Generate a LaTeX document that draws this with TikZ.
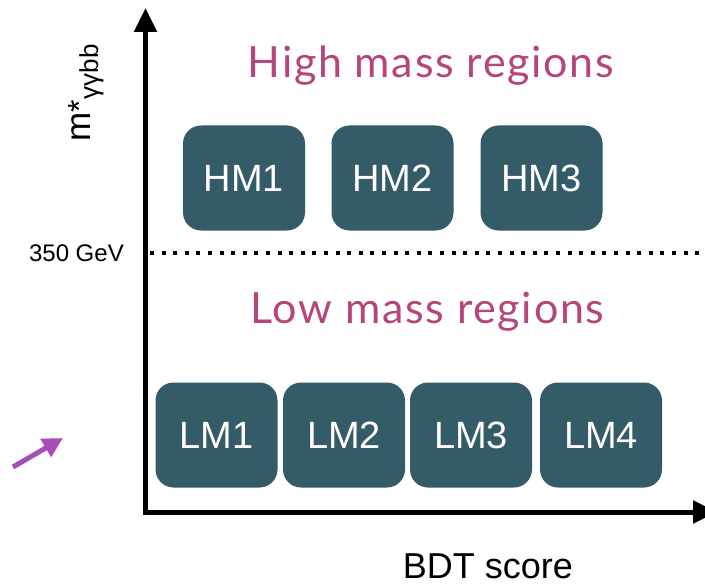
\documentclass[tikz,border=0pt]{standalone}
\usepackage{fontspec}
\setmainfont{Liberation Sans}
\newfontfamily\titlefont[LetterSpace=4]{Lato}
\usetikzlibrary{arrows.meta}
\definecolor{boxteal}{HTML}{335B68}
\definecolor{titlepink}{HTML}{B5457A}
\definecolor{arrowpurple}{HTML}{A64FB5}
\tikzset{
  region/.style={fill=boxteal, rounded corners=18pt, minimum width=122pt, minimum height=105pt,
    inner sep=0pt, text=white, font=\fontsize{38}{38}\selectfont},
  regtitle/.style={text=titlepink, font=\titlefont\fontsize{43}{43}\selectfont, inner sep=0pt, anchor=base},
  axis/.style={line width=5pt, -{Triangle[length=24pt,width=22pt]}},
}
\begin{document}
\begin{tikzpicture}[x=1pt,y=-1pt]
\useasboundingbox (0,0) rectangle (705,586);
% axes
\coordinate (O) at (145.5,515);
\coordinate (Ytop) at (145.5,8);
\coordinate (Xs) at (143,512);
\coordinate (Xend) at (717,512);
\draw[axis] (O) -- (Ytop);
\draw[axis] (Xs) -- (Xend);
% threshold
\coordinate (Ds) at (150,253);
\coordinate (De) at (705,253);
\draw[line width=4pt, dash pattern=on 4pt off 7.6pt] (Ds) -- (De);
\node[anchor=base east, inner sep=0pt, font=\fontsize{24}{24}\selectfont] (thr) at (124,261.5) {350 GeV};
% y label
\node[rotate=90, anchor=base west, inner sep=0pt] (ylab) at (90,142)
  {\fontsize{35}{35}\selectfont m\fontsize{32}{32}\selectfont *\hspace{1pt}\raisebox{-8pt}{\fontsize{26}{26}\selectfont γγbb}};
% x label
\node[anchor=base, inner sep=0pt, font=\fontsize{36}{36}\selectfont] (xlab) at (488,578) {BDT score};
% titles
\node[regtitle] (ht) at (431,78) {High mass regions};
\node[regtitle] (lt) at (427.5,323) {Low mass regions};
% boxes
\node[region] (HM1) at (244,178) {HM1};
\node[region] (HM2) at (392.5,178) {HM2};
\node[region] (HM3) at (541.5,178) {HM3};
\node[region] (LM1) at (216.5,435) {LM1};
\node[region] (LM2) at (344,435) {LM2};
\node[region] (LM3) at (471,435) {LM3};
\node[region] (LM4) at (601,435) {LM4};
% purple arrow
\coordinate (pa) at (13,467);
\coordinate (pb) at (63,438);
\draw[arrowpurple, line width=5pt, -{Triangle[length=20pt,width=20pt]}] (pa) -- (pb);
\end{tikzpicture}
\end{document}
